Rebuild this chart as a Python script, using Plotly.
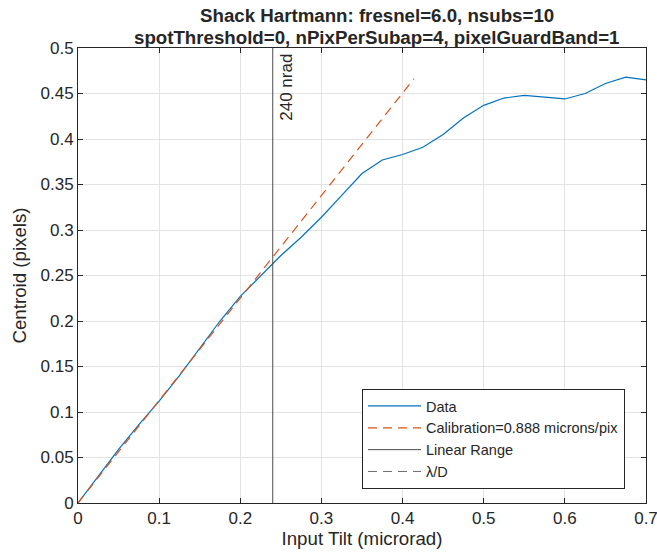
import plotly.graph_objects as go

# Measured centroid response versus injected tilt
tilt = [0.0, 0.025, 0.05, 0.075, 0.1, 0.125, 0.15, 0.175, 0.2, 0.225, 0.25,
        0.275, 0.3, 0.325, 0.35, 0.375, 0.4, 0.425, 0.45, 0.475, 0.5,
        0.525, 0.55, 0.575, 0.6, 0.625, 0.65, 0.675, 0.7]
centroid = [0.0, 0.030, 0.059, 0.086, 0.112, 0.140, 0.170, 0.200, 0.227, 0.250, 0.272,
            0.292, 0.314, 0.338, 0.362, 0.377, 0.383, 0.391, 0.405, 0.423, 0.437,
            0.445, 0.448, 0.446, 0.444, 0.450, 0.461, 0.468, 0.465]

# Linear calibration: microns per pixel
calibration = 0.888
cal_tilt = [0.0, 0.414]
cal_centroid = [t / calibration for t in cal_tilt]

# Linear range limit (microrad)
linear_limit = 0.24

title_lines = ["Shack Hartmann: fresnel=6.0, nsubs=10",
               "spotThreshold=0, nPixPerSubap=4, pixelGuardBand=1"]
x_ticks = [0, 0.1, 0.2, 0.3, 0.4, 0.5, 0.6, 0.7]
y_ticks = [0, 0.05, 0.1, 0.15, 0.2, 0.25, 0.3, 0.35, 0.4, 0.45, 0.5]

FONT = "Liberation Sans, Arial, sans-serif"
TXT = "#262626"

fig = go.Figure()
fig.add_trace(go.Scatter(x=tilt, y=centroid, mode="lines", name="Data",
                         line=dict(color="#0072BD", width=1.2)))
fig.add_trace(go.Scatter(x=cal_tilt, y=cal_centroid, mode="lines",
                         name="Calibration=0.888 microns/pix",
                         line=dict(color="#D95319", width=1.2, dash="9px,6px")))
fig.add_trace(go.Scatter(x=[linear_limit, linear_limit], y=[0, 0.5], mode="lines",
                         name="Linear Range",
                         line=dict(color="#4d4d4d", width=1)))
fig.add_trace(go.Scatter(x=[None], y=[None], mode="lines", name="λ/D",
                         line=dict(color="#6e6e6e", width=1, dash="9px,6px")))

fig.add_annotation(x=linear_limit, y=0.4566, xref="x", yref="y", text="240 nrad",
                   textangle=-90, showarrow=False, xanchor="left", xshift=2,
                   font=dict(family=FONT, size=17, color=TXT))

# Two-line bold title
for txt, ypos in zip(title_lines, [1.0725, 1.022]):
    fig.add_annotation(x=(376 - 78) / 567, y=ypos, xref="paper", yref="paper",
                       text="<b>" + txt + "</b>", showarrow=False,
                       xanchor="center", yanchor="middle",
                       font=dict(family=FONT, size=18.7, color=TXT))

axis_common = dict(showgrid=True, gridcolor="#e3e3e3", gridwidth=1,
                   showline=True, linecolor=TXT, linewidth=1, mirror="ticks",
                   ticks="inside", ticklen=5, tickcolor=TXT, zeroline=False,
                   automargin=False, ticklabeloverflow="allow",
                   tickfont=dict(family=FONT, size=17, color=TXT))

fig.update_layout(
    width=657, height=558,
    margin=dict(l=78, r=11, t=48, b=55),
    paper_bgcolor="white", plot_bgcolor="white",
    xaxis=dict(range=[0, 0.7], tickvals=x_ticks,
               ticktext=[f"{v:g}" for v in x_ticks],
               title=dict(text="Input Tilt (microrad)", standoff=4,
                          font=dict(family=FONT, size=18.7, color=TXT)),
               **axis_common),
    yaxis=dict(range=[0, 0.5], tickvals=y_ticks,
               ticktext=[f"{v:g}" for v in y_ticks],
               title=dict(text="Centroid (pixels)", standoff=8,
                          font=dict(family=FONT, size=18.7, color=TXT)),
               **axis_common),
    legend=dict(x=(362 - 78) / 568, y=(503 - 489) / 455, xanchor="left", yanchor="bottom",
                bgcolor="white", bordercolor=TXT, borderwidth=1,
                itemwidth=53, tracegroupgap=0,
                font=dict(family=FONT, size=14.5, color=TXT)),
    showlegend=True,
)

fig.write_html("out.html")
